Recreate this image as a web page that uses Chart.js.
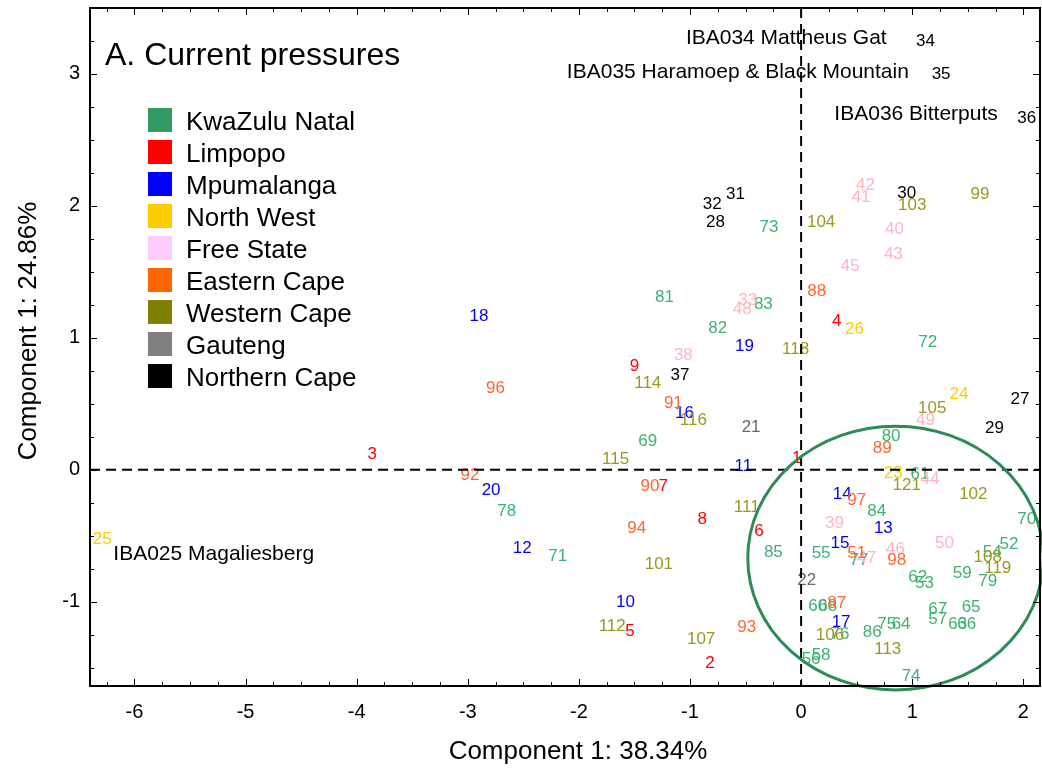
<!DOCTYPE html>
<html>
<head>
<meta charset="utf-8">
<script src="https://cdn.jsdelivr.net/npm/chart.js@4.4.0/dist/chart.umd.min.js"></script>
<style>
  html, body { margin: 0; padding: 0; background: #fff; }
  #wrap { width: 1042px; height: 774px; }
</style>
</head>
<body>
<div id="wrap"><canvas id="chart" width="1042" height="774"></canvas></div>
<script>
// axis ticks
const xTickValues = [-6, -5, -4, -3, -2, -1, 0, 1, 2];
const yTickValues = [-1, 0, 1, 2, 3];

// IBA scores on component 1 (x) and component 2 (y), one set per province
const kznIds = [52, 53, 54, 55, 56, 57, 58, 59, 60, 61, 62, 63, 64, 65, 66, 67, 68, 69, 70, 71, 72, 73, 74, 75, 76, 77, 78, 79, 80, 81, 82, 83, 84, 85, 86];
const kznX = [1.87, 1.11, 1.72, 0.18, 0.09, 1.23, 0.18, 1.45, 0.15, 1.07, 1.05, 1.41, 0.90, 1.53, 1.49, 1.23, 0.24, -1.38, 2.03, -2.19, 1.14, -0.29, 0.99, 0.77, 0.35, 0.52, -2.65, 1.68, 0.81, -1.23, -0.75, -0.34, 0.68, -0.25, 0.64];
const kznY = [-0.55, -0.85, -0.61, -0.62, -1.42, -1.12, -1.39, -0.77, -1.02, -0.02, -0.80, -1.16, -1.16, -1.03, -1.16, -1.04, -1.02, 0.23, -0.36, -0.64, 0.98, 1.85, -1.55, -1.16, -1.23, -0.67, -0.30, -0.83, 0.27, 1.32, 1.09, 1.27, -0.30, -0.61, -1.22];

const limpopoIds = [1, 2, 3, 4, 5, 6, 7, 8, 9];
const limpopoX = [-0.04, -0.82, -3.86, 0.32, -1.54, -0.38, -1.24, -0.89, -1.50];
const limpopoY = [0.10, -1.45, 0.13, 1.14, -1.21, -0.45, -0.11, -0.36, 0.80];

const mpumalangaIds = [10, 11, 12, 13, 14, 15, 16, 17, 18, 19, 20];
const mpumalangaX = [-1.58, -0.52, -2.51, 0.74, 0.37, 0.35, -1.05, 0.36, -2.90, -0.51, -2.79];
const mpumalangaY = [-0.99, 0.04, -0.58, -0.43, -0.17, -0.54, 0.44, -1.14, 1.18, 0.95, -0.14];

const northWestIds = [23, 24, 25, 26];
const northWestX = [0.83, 1.42, -6.29, 0.48];
const northWestY = [-0.01, 0.59, -0.51, 1.08];

const freeStateIds = [33, 38, 39, 40, 41, 42, 43, 44, 45, 46, 47, 48, 49, 50];
const freeStateX = [-0.48, -1.06, 0.30, 0.84, 0.54, 0.58, 0.83, 1.16, 0.44, 0.85, 0.59, -0.53, 1.12, 1.29];
const freeStateY = [1.30, 0.88, -0.39, 1.84, 2.08, 2.17, 1.65, -0.06, 1.56, -0.59, -0.66, 1.23, 0.39, -0.54];

const easternCapeIds = [51, 87, 88, 89, 90, 91, 92, 93, 94, 96, 97, 98];
const easternCapeX = [0.50, 0.32, 0.14, 0.73, -1.36, -1.15, -2.98, -0.49, -1.48, -2.75, 0.50, 0.86];
const easternCapeY = [-0.62, -1.00, 1.37, 0.18, -0.11, 0.52, -0.03, -1.18, -0.43, 0.63, -0.22, -0.67];

const westernCapeIds = [99, 101, 102, 103, 104, 105, 106, 107, 108, 111, 112, 113, 114, 115, 116, 118, 119, 121];
const westernCapeX = [1.61, -1.28, 1.55, 1.00, 0.18, 1.18, 0.26, -0.90, 1.68, -0.49, -1.70, 0.78, -1.38, -1.67, -0.97, -0.05, 1.77, 0.95];
const westernCapeY = [2.10, -0.70, -0.17, 2.02, 1.89, 0.48, -1.24, -1.27, -0.65, -0.27, -1.17, -1.35, 0.67, 0.09, 0.39, 0.93, -0.73, -0.10];

const gautengIds = [21, 22];
const gautengX = [-0.45, 0.05];
const gautengY = [0.34, -0.82];

const northernCapeIds = [27, 28, 29, 30, 31, 32, 34, 35, 36, 37];
const northernCapeX = [1.97, -0.77, 1.74, 0.95, -0.59, -0.80, 1.12, 1.26, 2.03, -1.09];
const northernCapeY = [0.55, 1.89, 0.33, 2.11, 2.10, 2.03, 3.26, 3.01, 2.68, 0.73];

// named sites written next to their points
const noteTexts = ['IBA034 Mattheus Gat', 'IBA035 Haramoep & Black Mountain', 'IBA036 Bitterputs', 'IBA025 Magaliesberg'];
const noteX = [0.77, 0.97, 1.77, -6.19];
const noteY = [3.28, 3.02, 2.70, -0.63];
const noteAlign = ['right', 'right', 'right', 'left'];

// cluster ellipse: centre and half-axes in data units
const ellipseCentre = [0.85, -0.67];
const ellipseRadii = [1.33, 1.0];

const regionNames = ['KwaZulu Natal', 'Limpopo', 'Mpumalanga', 'North West', 'Free State', 'Eastern Cape', 'Western Cape', 'Gauteng', 'Northern Cape'];
const regionIds = [kznIds, limpopoIds, mpumalangaIds, northWestIds, freeStateIds, easternCapeIds, westernCapeIds, gautengIds, northernCapeIds];
const regionX = [kznX, limpopoX, mpumalangaX, northWestX, freeStateX, easternCapeX, westernCapeX, gautengX, northernCapeX];
const regionY = [kznY, limpopoY, mpumalangaY, northWestY, freeStateY, easternCapeY, westernCapeY, gautengY, northernCapeY];
const labelColors = ['#3cb371', '#ff0000', '#0000ff', '#ffcc00', '#ffb6c1', '#ff6633', '#999922', '#666666', '#000000'];
const legendColors = ['#339966', '#ff0000', '#0000ff', '#ffcc00', '#ffccff', '#ff6600', '#808000', '#808080', '#000000'];

const FONT = '"Liberation Sans", Arial, sans-serif';

const datasets = regionNames.map((name, i) => ({
  label: name,
  ids: regionIds[i],
  labelColor: labelColors[i],
  data: regionX[i].map((x, j) => ({ x: x, y: regionY[i][j] })),
  pointRadius: 0,
  pointHoverRadius: 0,
  showLine: false
}));

function drawAxisTicks(ctx, scale, area, horizontal) {
  const step = 0.25;
  const start = Math.ceil(scale.min / step) * step;
  for (let v = start; v <= scale.max + 1e-9; v += step) {
    const major = Math.abs(v - Math.round(v)) < 1e-6;
    const len = major ? 7 : 4;
    const p = Math.round(scale.getPixelForValue(v)) + 0.5;
    ctx.beginPath();
    if (horizontal) {
      ctx.moveTo(p, area.bottom); ctx.lineTo(p, area.bottom - len);
      ctx.moveTo(p, area.top); ctx.lineTo(p, area.top + len);
    } else {
      ctx.moveTo(area.left, p); ctx.lineTo(area.left + len, p);
      ctx.moveTo(area.right, p); ctx.lineTo(area.right - len, p);
    }
    ctx.stroke();
  }
}

const pcaDecor = {
  id: 'pcaDecor',
  afterDatasetsDraw(chart) {
    const ctx = chart.ctx;
    const xs = chart.scales.x, ys = chart.scales.y;
    const area = chart.chartArea;

    // numbered site labels (baseline nudged so digits sit centred on the point)
    ctx.save();
    ctx.font = '17px ' + FONT;
    ctx.textAlign = 'center';
    ctx.textBaseline = 'middle';
    chart.data.datasets.forEach((ds, i) => {
      const meta = chart.getDatasetMeta(i);
      ctx.fillStyle = ds.labelColor;
      meta.data.forEach((pt, j) => ctx.fillText(String(ds.ids[j]), pt.x, pt.y + 2));
    });

    // site names
    ctx.font = '21px ' + FONT;
    ctx.fillStyle = '#000';
    noteTexts.forEach((t, i) => {
      ctx.textAlign = noteAlign[i];
      ctx.fillText(t, xs.getPixelForValue(noteX[i]), ys.getPixelForValue(noteY[i]) + 1);
    });

    // zero lines
    ctx.strokeStyle = '#000';
    ctx.lineWidth = 2;
    ctx.setLineDash([10, 6]);
    const x0 = xs.getPixelForValue(0), y0 = ys.getPixelForValue(0);
    ctx.beginPath();
    ctx.moveTo(x0, area.top); ctx.lineTo(x0, area.bottom);
    ctx.moveTo(area.left, y0); ctx.lineTo(area.right, y0);
    ctx.stroke();
    ctx.setLineDash([]);

    // ellipse
    const cx = xs.getPixelForValue(ellipseCentre[0]);
    const cy = ys.getPixelForValue(ellipseCentre[1]);
    const rx = Math.abs(xs.getPixelForValue(ellipseCentre[0] + ellipseRadii[0]) - cx);
    const ry = Math.abs(ys.getPixelForValue(ellipseCentre[1] + ellipseRadii[1]) - cy);
    ctx.strokeStyle = '#2e8b57';
    ctx.lineWidth = 3;
    ctx.beginPath();
    ctx.ellipse(cx, cy, rx, ry, 0, 0, Math.PI * 2);
    ctx.stroke();

    // frame with inward ticks
    ctx.strokeStyle = '#000';
    ctx.lineWidth = 2;
    ctx.strokeRect(area.left, area.top, area.right - area.left, area.bottom - area.top);
    ctx.lineWidth = 1;
    drawAxisTicks(ctx, xs, area, true);
    drawAxisTicks(ctx, ys, area, false);

    // title
    ctx.fillStyle = '#000';
    ctx.textAlign = 'left';
    ctx.textBaseline = 'alphabetic';
    ctx.font = '32px ' + FONT;
    ctx.fillText('A. Current pressures', 105, 65);

    // legend
    ctx.font = '26px ' + FONT;
    regionNames.forEach((name, i) => {
      const cyRow = 120 + i * 32;
      ctx.fillStyle = legendColors[i];
      ctx.fillRect(148, cyRow - 12, 24, 24);
      ctx.fillStyle = '#000';
      ctx.fillText(name, 186, cyRow + 10);
    });

    // axis titles
    ctx.font = '26px ' + FONT;
    ctx.textAlign = 'center';
    ctx.textBaseline = 'middle';
    ctx.fillText('Component 1: 38.34%', 578, 752);
    ctx.translate(29, 331);
    ctx.rotate(-Math.PI / 2);
    ctx.fillText('Component 1: 24.86%', 0, 0);
    ctx.restore();
  }
};

new Chart(document.getElementById('chart'), {
  type: 'scatter',
  data: { datasets: datasets },
  options: {
    responsive: false,
    animation: false,
    events: [],
    layout: { padding: { top: 8, right: 2, left: 0, bottom: 0 } },
    plugins: {
      legend: { display: false },
      tooltip: { enabled: false }
    },
    scales: {
      x: {
        type: 'linear',
        min: -6.4,
        max: 2.15,
        afterBuildTicks: s => { s.ticks = xTickValues.map(v => ({ value: v })); },
        afterFit: s => { s.height = 88; s.paddingLeft = 0; s.paddingRight = 0; },
        grid: { display: false, drawTicks: false },
        border: { display: false },
        ticks: {
          padding: 14,
          color: '#000',
          font: { family: FONT, size: 20 },
          callback: v => String(v)
        }
      },
      y: {
        type: 'linear',
        min: -1.64,
        max: 3.5,
        afterBuildTicks: s => { s.ticks = yTickValues.map(v => ({ value: v })); },
        afterFit: s => { s.width = 90; s.paddingTop = 0; s.paddingBottom = 0; },
        grid: { display: false, drawTicks: false },
        border: { display: false },
        ticks: {
          padding: 10,
          color: '#000',
          font: { family: FONT, size: 20 },
          callback: v => String(v)
        }
      }
    }
  },
  plugins: [pcaDecor]
});
</script>
</body>
</html>
